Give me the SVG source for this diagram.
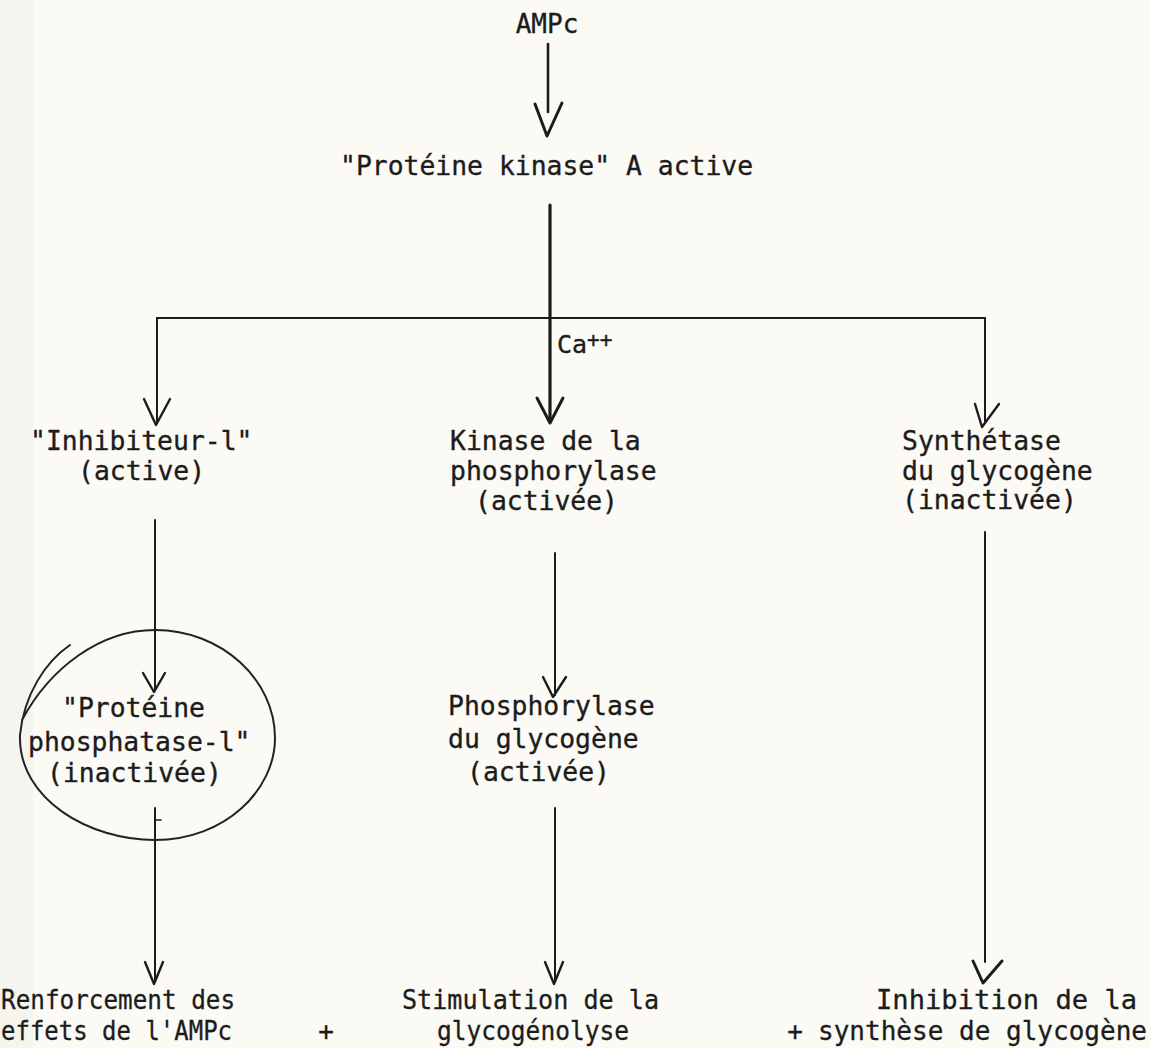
<svg xmlns="http://www.w3.org/2000/svg" width="1151" height="1048" viewBox="0 0 1151 1048">
  <style>
    .t { font-family: "DejaVu Sans Mono", "Liberation Mono", monospace; font-size: 26.4px; fill: #1c1c1c; stroke: #1c1c1c; stroke-width: 0.35px; }
    .b { font-family: "DejaVu Sans Mono", "Liberation Mono", monospace; font-size: 26px; fill: #1c1c1c; stroke: #1c1c1c; stroke-width: 0.3px; }
    .ln { stroke: #1c1c1c; stroke-width: 2; fill: none; stroke-linecap: round; }
    .thick { stroke-width: 3.2; }
    .head { stroke: #1c1c1c; stroke-width: 2.4; fill: none; stroke-linecap: round; stroke-linejoin: round; }
    .pen { stroke: #222; stroke-width: 2; fill: none; stroke-linecap: round; }
  </style>
  <rect x="0" y="0" width="1151" height="1048" fill="#fbfaf4"/>
  <rect x="0" y="0" width="33" height="1048" fill="#f5f4ee"/>

  <g id="connectors">
    <!-- AMPc -> Protein kinase A -->
    <line class="ln" x1="548" y1="44" x2="548" y2="112" style="stroke-width:2.6"/>
    <path class="head" d="M535,104 L547,136 L562,103" style="stroke-width:3"/>
    <!-- main vertical -->
    <line class="ln thick" x1="550" y1="205" x2="550" y2="420"/>
    <path class="head" d="M537,398 L550,423 L563,398" style="stroke-width:3"/>
    <!-- horizontal branch -->
    <line class="ln" x1="157" y1="318" x2="985" y2="318"/>
    <line class="ln" x1="157" y1="318" x2="157" y2="423"/>
    <path class="head" d="M144,399 L156,425 L170,399"/>
    <line class="ln" x1="985" y1="318" x2="985" y2="423"/>
    <path class="head" d="M975,404 L982,427 L999,404"/>
    <!-- left column -->
    <line class="ln" x1="155" y1="520" x2="155" y2="690"/>
    <path class="head" d="M143,673 L154,692 L165,673"/>
    <line class="ln" x1="155" y1="808" x2="155" y2="982"/>
    <line class="ln" x1="156" y1="820" x2="161" y2="820" style="stroke-width:1.6"/>
    <path class="head" d="M145,962 L154,984 L163,962"/>
    <!-- middle column -->
    <line class="ln" x1="555" y1="553" x2="555" y2="695"/>
    <path class="head" d="M543,677 L553,697 L566,677"/>
    <line class="ln" x1="555" y1="808" x2="555" y2="982"/>
    <path class="head" d="M545,962 L554,984 L563,962"/>
    <!-- right column -->
    <line class="ln" x1="985" y1="532" x2="985" y2="962"/>
    <path class="head" d="M973,961 L983,983 L1002,961" style="stroke-width:3"/>
  </g>

  <g id="ca">
    <text class="t" x="557" y="353" style="font-size:25px">Ca<tspan dy="-6" style="font-size:21px">++</tspan></text>
  </g>

  <g id="ampc">
    <text class="t" x="547" y="33" text-anchor="middle" style="font-size:26px">AMPc</text>
  </g>

  <g id="pka">
    <text class="t" x="340" y="175">"Protéine kinase" A active</text>
  </g>

  <g id="inhibiteur1">
    <text class="t" x="30" y="450">"Inhibiteur-l"</text>
    <text class="t" x="78" y="480">(active)</text>
  </g>

  <g id="kinase-phosphorylase">
    <text class="t" x="450" y="450">Kinase de la</text>
    <text class="t" x="450" y="480">phosphorylase</text>
    <text class="t" x="475" y="510">(activée)</text>
  </g>

  <g id="synthetase">
    <text class="t" x="902" y="450">Synthétase</text>
    <text class="t" x="902" y="480">du glycogène</text>
    <text class="t" x="902" y="509">(inactivée)</text>
  </g>

  <g id="phosphatase1">
    <path class="pen" d="M70,645 C45,662 24,695 20,735 C18,800 90,840 155,840 C225,840 275,790 275,738 C275,680 222,630 155,630 C100,630 50,668 22,720"/>
    <text class="t" x="62" y="717">"Protéine</text>
    <text class="t" x="28" y="751">phosphatase-l"</text>
    <text class="t" x="47" y="782">(inactivée)</text>
  </g>

  <g id="phosphorylase">
    <text class="t" x="448" y="715">Phosphorylase</text>
    <text class="t" x="448" y="748">du glycogène</text>
    <text class="t" x="467" y="781">(activée)</text>
  </g>

  <g id="renforcement">
    <text class="b" x="1" y="1009" textLength="234" lengthAdjust="spacingAndGlyphs">Renforcement des</text>
    <text class="b" x="1" y="1040" textLength="231" lengthAdjust="spacingAndGlyphs">effets de l'AMPc</text>
  </g>
  <g id="plus1">
    <text class="b" x="326" y="1040" text-anchor="middle">+</text>
  </g>
  <g id="stimulation">
    <text class="b" x="402" y="1009" textLength="257" lengthAdjust="spacingAndGlyphs">Stimulation de la</text>
    <text class="b" x="437" y="1040" textLength="192" lengthAdjust="spacingAndGlyphs">glycogénolyse</text>
  </g>
  <g id="plus2">
    <text class="b" x="795" y="1040" text-anchor="middle">+</text>
  </g>
  <g id="inhibition">
    <text class="b" x="876" y="1009" textLength="261" lengthAdjust="spacingAndGlyphs">Inhibition de la</text>
    <text class="b" x="818" y="1040" textLength="329" lengthAdjust="spacingAndGlyphs">synthèse de glycogène</text>
  </g>
</svg>
